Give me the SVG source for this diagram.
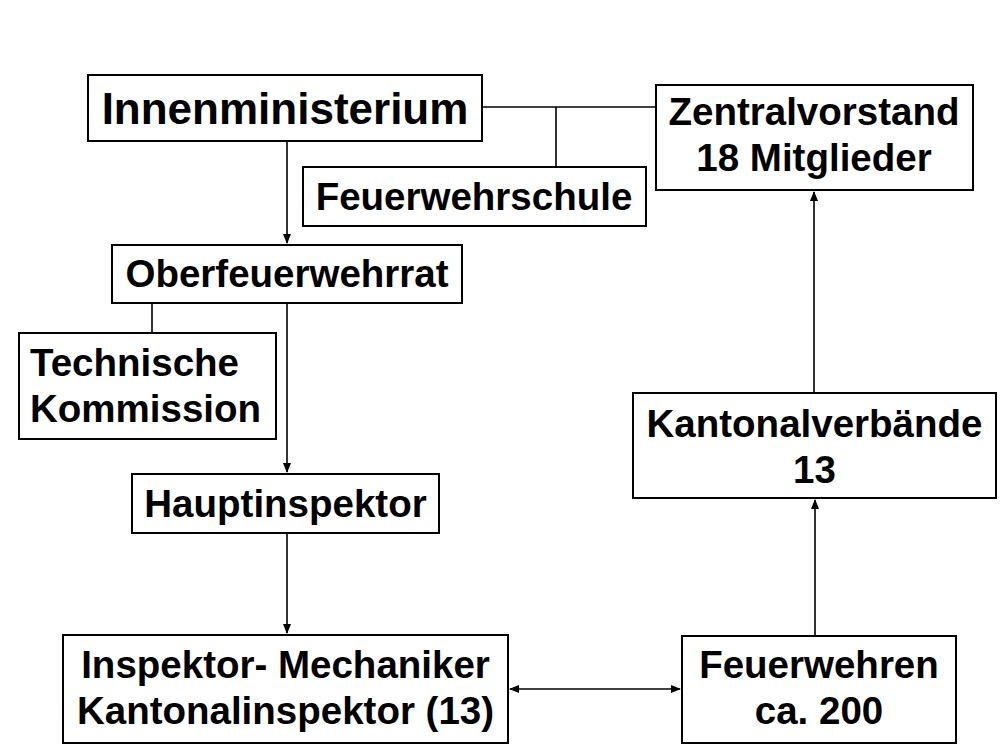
<svg xmlns="http://www.w3.org/2000/svg" width="1000" height="750" viewBox="0 0 1000 750">
<style>
.box{fill:#fff;stroke:#000;stroke-width:2}
.t{font-family:"Liberation Sans",Arial,sans-serif;font-weight:bold;fill:#000;font-size:38.5px;text-anchor:middle}
.l{text-anchor:start}
.c{stroke:#000;stroke-width:1.6;fill:none}
</style>
<defs>
<marker id="ah" markerWidth="10" markerHeight="8" refX="9" refY="4" orient="auto" markerUnits="userSpaceOnUse">
<path d="M0,0 L10,4 L0,8 z" fill="#000"/>
</marker>
<marker id="as" markerWidth="10" markerHeight="8" refX="1" refY="4" orient="auto" markerUnits="userSpaceOnUse">
<path d="M10,0 L0,4 L10,8 z" fill="#000"/>
</marker>
</defs>
<rect width="1000" height="750" fill="#fff"/>
<g id="connectors">
<line class="c" x1="482" y1="107" x2="656" y2="107"/>
<line class="c" x1="556" y1="107" x2="556" y2="167"/>
<line class="c" x1="287" y1="141" x2="287" y2="243" marker-end="url(#ah)"/>
<line class="c" x1="152" y1="303" x2="152" y2="333"/>
<line class="c" x1="287" y1="303" x2="287" y2="472" marker-end="url(#ah)"/>
<line class="c" x1="287" y1="533" x2="287" y2="633" marker-end="url(#ah)"/>
<line class="c" x1="510" y1="689" x2="680" y2="689" marker-start="url(#as)" marker-end="url(#ah)"/>
<line class="c" x1="815" y1="636" x2="815" y2="500" marker-end="url(#ah)"/>
<line class="c" x1="814" y1="393" x2="814" y2="192" marker-end="url(#ah)"/>
</g>
<g id="innenministerium">
<rect class="box" x="88" y="75" width="394" height="66"/>
<text class="t" x="285" y="124" style="font-size:44px">Innenministerium</text>
</g>
<g id="feuerwehrschule">
<rect class="box" x="303" y="167" width="343" height="59"/>
<text class="t" x="474" y="210">Feuerwehrschule</text>
</g>
<g id="zentralvorstand">
<rect class="box" x="656" y="85" width="317" height="105"/>
<text class="t" x="814" y="125">Zentralvorstand</text>
<text class="t" x="814" y="171">18 Mitglieder</text>
</g>
<g id="oberfeuerwehrrat">
<rect class="box" x="112" y="245" width="350" height="58"/>
<text class="t" x="287" y="287">Oberfeuerwehrrat</text>
</g>
<g id="technische-kommission">
<rect class="box" x="19" y="333" width="257" height="106"/>
<text class="t l" x="30" y="376">Technische</text>
<text class="t l" x="30" y="422">Kommission</text>
</g>
<g id="hauptinspektor">
<rect class="box" x="132" y="474" width="307" height="59"/>
<text class="t" x="285.5" y="517">Hauptinspektor</text>
</g>
<g id="kantonalverbaende">
<rect class="box" x="633" y="393" width="363" height="105"/>
<text class="t" x="814.5" y="437">Kantonalverbände</text>
<text class="t" x="814.5" y="483">13</text>
</g>
<g id="inspektor">
<rect class="box" x="63" y="635" width="445" height="108"/>
<text class="t" x="285.5" y="678">Inspektor- Mechaniker</text>
<text class="t" x="285.5" y="724">Kantonalinspektor (13)</text>
</g>
<g id="feuerwehren">
<rect class="box" x="682" y="636" width="274" height="107"/>
<text class="t" x="819" y="678">Feuerwehren</text>
<text class="t" x="819" y="724">ca. 200</text>
</g>
</svg>
